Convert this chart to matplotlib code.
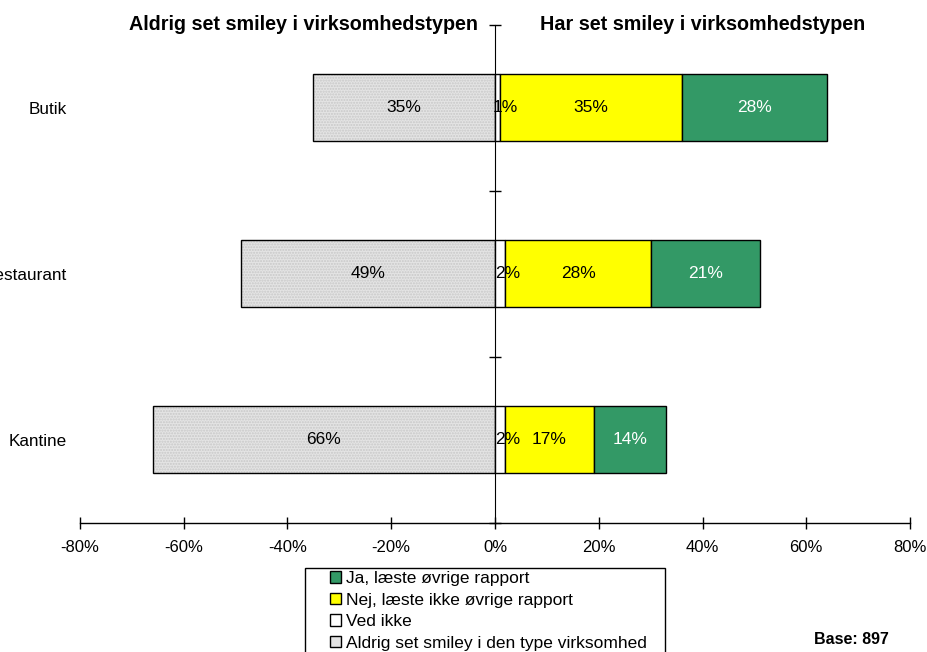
import matplotlib.pyplot as plt
from matplotlib.patches import Patch, Rectangle
import numpy as np

plt.rcParams['font.family'] = ['Liberation Sans', 'DejaVu Sans']

categories = ['Butik', 'Restaurant', 'Kantine']
aldrig = [35, 49, 66]      # drawn to the left
ved_ikke = [1, 2, 2]
nej = [35, 28, 17]
ja = [28, 21, 14]

legend_labels = ['Ja, læste øvrige rapport', 'Nej, læste ikke øvrige rapport',
                 'Ved ikke', 'Aldrig set smiley i den type virksomhed']
xticks = [-80, -60, -40, -20, 0, 20, 40, 60, 80]

green = '#339966'
yellow = '#ffff00'
grey = '#e4e4e4'

W, H = 928, 652
fig = plt.figure(figsize=(W / 100, H / 100), dpi=100)
ax = fig.add_axes([80 / W, 129.5 / H, 830 / W, 498 / H])

y = np.arange(len(categories))
h = 0.4
neg = -np.array(aldrig)
ved = np.array(ved_ikke)
nej_a = np.array(nej)
ja_a = np.array(ja)

# grey part with dotted texture, then outline on top
ax.barh(y, neg, height=h, color=grey, hatch='......', edgecolor='#c8c8c8', linewidth=0)
ax.barh(y, neg, height=h, fill=False, edgecolor='black', linewidth=1)
ax.barh(y, ved, height=h, color='white', edgecolor='black', linewidth=1)
ax.barh(y, nej_a, left=ved, height=h, color=yellow, edgecolor='black', linewidth=1)
ax.barh(y, ja_a, left=ved + nej_a, height=h, color=green, edgecolor='black', linewidth=1)

fs = 12.5
for i in range(len(categories)):
    ax.text(neg[i] / 2, y[i], f'{aldrig[i]}%', ha='center', va='center', fontsize=fs)
    ax.text(ved[i] / 2 + 1.5, y[i], f'{ved_ikke[i]}%', ha='center', va='center', fontsize=fs)
    ax.text(ved[i] + nej_a[i] / 2, y[i], f'{nej[i]}%', ha='center', va='center', fontsize=fs)
    ax.text(ved[i] + nej_a[i] + ja_a[i] / 2, y[i], f'{ja[i]}%', ha='center', va='center',
            fontsize=fs, color='white')

ax.set_xlim(-80, 80)
ax.set_ylim(len(categories) - 0.5, -0.5)
ax.set_xticks(xticks)
ax.set_xticklabels([f'{t}%' for t in xticks], fontsize=12)
ax.tick_params(axis='x', direction='inout', length=8, width=1, pad=8.5)

ax.set_yticks(y)
ax.set_yticklabels(categories, fontsize=12.3)
ax.tick_params(axis='y', length=0, pad=9.5)

for s in ['top', 'right', 'left']:
    ax.spines[s].set_visible(False)
ax.spines['bottom'].set_linewidth(1)

# vertical zero axis with ticks between categories
sec = ax.secondary_yaxis(0.5)
sec.set_yticks(np.arange(len(categories) + 1) - 0.5)
sec.set_yticklabels([])
sec.tick_params(direction='inout', length=9, width=1)
sec.spines['left'].set_color('#555555')

fig.text(478 / W, 1 - 24 / H, 'Aldrig set smiley i virksomhedstypen', ha='right',
         va='center', fontsize=14.2, fontweight='bold')
fig.text(540 / W, 1 - 24 / H, 'Har set smiley i virksomhedstypen', ha='left',
         va='center', fontsize=14.2, fontweight='bold')

# legend box (extends past the bottom edge like the original)
fig.add_artist(Rectangle((305 / W, -0.05), 360 / W, (H - 568) / H + 0.05,
                         transform=fig.transFigure, facecolor='white',
                         edgecolor='black', linewidth=1, clip_on=False))
handles = [Patch(facecolor=green, edgecolor='black'),
           Patch(facecolor=yellow, edgecolor='black'),
           Patch(facecolor='white', edgecolor='black'),
           Patch(facecolor=grey, edgecolor='black')]
leg = fig.legend(handles, legend_labels, loc='upper left',
                 bbox_to_anchor=(330 / W, 1 - 571 / H), fontsize=12.5,
                 handlelength=0.65, handleheight=0.65, handletextpad=0.25,
                 labelspacing=0.38, borderpad=0, borderaxespad=0,
                 frameon=False)

fig.text(889 / W, 1 - 640 / H, 'Base: 897', ha='right', va='center',
         fontsize=11.5, fontweight='bold')

fig.savefig('out.png', dpi=100)
